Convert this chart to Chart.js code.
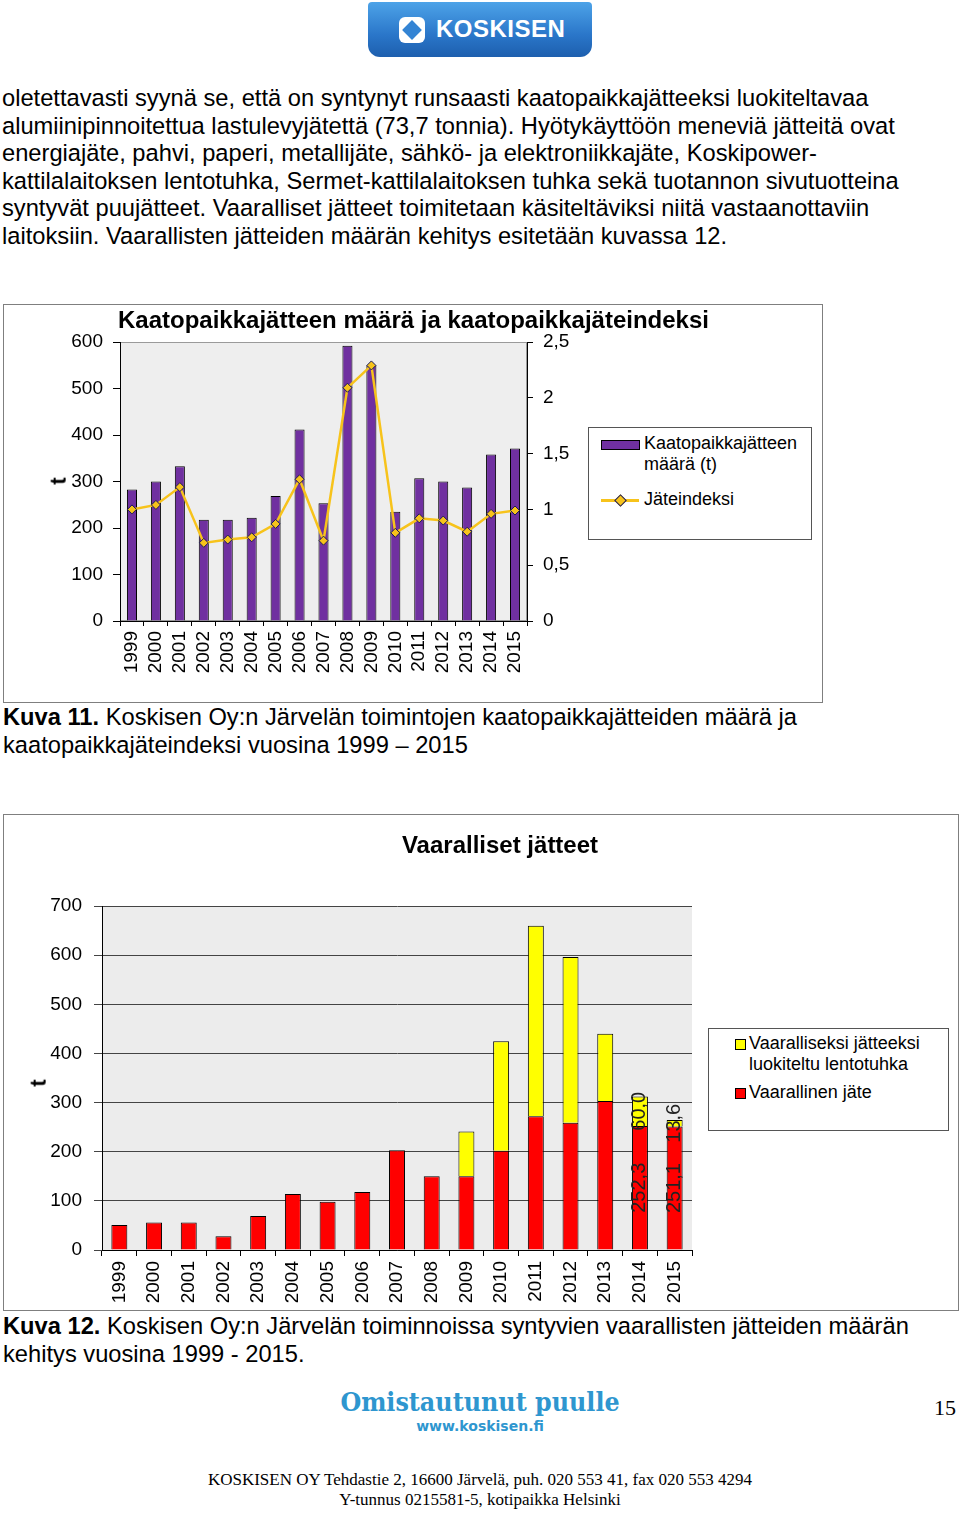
<!DOCTYPE html>
<html>
<head>
<meta charset="utf-8">
<script src="https://cdn.jsdelivr.net/npm/chart.js@4.4.1/dist/chart.umd.min.js"></script>
<style>
body{margin:0;width:960px;height:1513px;position:relative;background:#fff;color:#000;overflow:hidden;font-family:"Liberation Sans",Arial,sans-serif}
.abs{position:absolute;white-space:nowrap}
.p{left:2px;font-size:23.7px;line-height:27px}
.box{position:absolute;border:1px solid #7f7f7f;background:#fff}
.ctitle{font-family:"Liberation Sans Narrow","Liberation Sans",Arial,sans-serif;font-weight:bold}
.leg{font-family:"Liberation Sans Narrow","Liberation Sans",Arial,sans-serif;font-size:18px;line-height:21px}
.foot{font-family:"Liberation Serif","Times New Roman",serif;font-size:17px;width:960px;left:0;text-align:center}
</style>
</head>
<body>

<!-- logo -->
<div class="abs" style="left:368px;top:2px;width:224px;height:55px;border-radius:4px 4px 12px 12px;background:linear-gradient(#4da3e8,#2a76c9 60%,#1d5fae)"></div>
<div class="abs" style="left:399px;top:17px;width:26px;height:26px;border-radius:6px;background:#fff"></div>
<div class="abs" style="left:405px;top:23px;width:14px;height:14px;transform:rotate(45deg);background:#3484d4"></div>
<div class="abs" style="left:436px;top:15px;color:#fff;font-weight:bold;font-size:24px;letter-spacing:0.5px">KOSKISEN</div>

<!-- body text -->
<div class="abs p" style="top:84.5px">oletettavasti syynä se, että on syntynyt runsaasti kaatopaikkajätteeksi luokiteltavaa</div>
<div class="abs p" style="top:112.5px">alumiinipinnoitettua lastulevyjätettä (73,7 tonnia). Hyötykäyttöön meneviä jätteitä ovat</div>
<div class="abs p" style="top:139.5px">energiajäte, pahvi, paperi, metallijäte, sähkö- ja elektroniikkajäte, Koskipower-</div>
<div class="abs p" style="top:167.5px">kattilalaitoksen lentotuhka, Sermet-kattilalaitoksen tuhka sekä tuotannon sivutuotteina</div>
<div class="abs p" style="top:194.5px">syntyvät puujätteet. Vaaralliset jätteet toimitetaan käsiteltäviksi niitä vastaanottaviin</div>
<div class="abs p" style="top:222.5px">laitoksiin. Vaarallisten jätteiden määrän kehitys esitetään kuvassa 12.</div>

<!-- chart 1 -->
<div class="box" style="left:3px;top:304px;width:818px;height:397px"></div>
<canvas id="c1" class="abs" style="left:0;top:304px;width:830px;height:398px" width="830" height="398"></canvas>
<div class="abs ctitle" style="left:118px;top:306px;font-size:24px">Kaatopaikkajätteen määrä ja kaatopaikkajäteindeksi</div>
<div class="abs ctitle" style="left:55px;top:468px;font-size:22px;transform:rotate(-90deg)">t</div>
<div class="box" style="left:588px;top:427px;width:222px;height:111px;border-color:#555"></div>
<div class="abs" style="left:601px;top:440px;width:37px;height:8px;background:#7030a0;border:1px solid #000"></div>
<div class="abs leg" style="left:644px;top:433px">Kaatopaikkajätteen<br>määrä (t)</div>
<div class="abs" style="left:601px;top:499px;width:38px;height:3px;background:#f7c31b"></div>
<div class="abs" style="left:616px;top:496px;width:7px;height:7px;transform:rotate(45deg);background:#f7c31b;border:1px solid #1a1a5a"></div>
<div class="abs leg" style="left:644px;top:489px">Jäteindeksi</div>

<div class="abs p" style="left:3px;top:703.5px"><b>Kuva 11.</b> Koskisen Oy:n Järvelän toimintojen kaatopaikkajätteiden määrä ja</div>
<div class="abs p" style="left:3px;top:731.5px">kaatopaikkajäteindeksi vuosina 1999 – 2015</div>

<!-- chart 2 -->
<div class="box" style="left:3px;top:814px;width:954px;height:495px"></div>
<canvas id="c2" class="abs" style="left:0;top:814px;width:960px;height:496px" width="960" height="496"></canvas>
<div class="abs ctitle" style="left:300px;width:400px;text-align:center;top:831px;font-size:24px">Vaaralliset jätteet</div>
<div class="abs ctitle" style="left:35px;top:1070px;font-size:22px;transform:rotate(-90deg)">t</div>
<div class="box" style="left:708px;top:1028px;width:239px;height:101px;border-color:#555"></div>
<div class="abs" style="left:735px;top:1039px;width:9px;height:9px;background:#ffff00;border:1px solid #000"></div>
<div class="abs leg" style="left:749px;top:1033px">Vaaralliseksi jätteeksi<br>luokiteltu lentotuhka</div>
<div class="abs" style="left:735px;top:1088px;width:9px;height:9px;background:#ff0000;border:1px solid #000"></div>
<div class="abs leg" style="left:749px;top:1082px">Vaarallinen jäte</div>

<div class="abs p" style="left:3px;top:1312.5px"><b>Kuva 12.</b> Koskisen Oy:n Järvelän toiminnoissa syntyvien vaarallisten jätteiden määrän</div>
<div class="abs p" style="left:3px;top:1340.5px">kehitys vuosina 1999 - 2015.</div>

<!-- footer -->
<div class="abs" style="left:280px;width:400px;text-align:center;top:1386px;color:#2e96cf;font-family:'DejaVu Serif Condensed','DejaVu Serif',serif;font-weight:bold;font-size:26.5px">Omistautunut puulle</div>
<div class="abs" style="left:300px;width:360px;text-align:center;top:1418px;color:#2e96cf;font-family:'DejaVu Sans','Liberation Sans',sans-serif;font-weight:bold;font-size:14px">www.koskisen.fi</div>
<div class="abs" style="left:934px;top:1395px;font-family:'Liberation Serif',serif;font-size:22px">15</div>
<div class="abs foot" style="top:1470px">KOSKISEN OY Tehdastie 2, 16600 Järvelä, puh. 020 553 41, fax 020 553 4294</div>
<div class="abs foot" style="top:1490px">Y-tunnus 0215581-5, kotipaikka Helsinki</div>

<script>
// ---- data ----
const years = ['1999','2000','2001','2002','2003','2004','2005','2006','2007','2008','2009','2010','2011','2012','2013','2014','2015'];
const landfillTons = [283, 300, 333, 218, 218, 222, 269, 412, 253, 592, 550, 235, 307, 300, 287, 358, 371];
const wasteIndex = [1.0, 1.04, 1.2, 0.7, 0.73, 0.75, 0.87, 1.27, 0.72, 2.09, 2.29, 0.79, 0.92, 0.9, 0.8, 0.96, 0.99];
const hazardousWaste = [51, 56, 56, 28, 69, 114, 98, 118, 203, 150, 150, 202, 272, 259, 303, 252.3, 251.1];
const hazardousAsh = [0, 0, 0, 0, 0, 0, 0, 0, 0, 0, 91, 223, 388, 337, 137, 60.0, 13.6];
const labelledYears = ['2014', '2015'];
const leftTicks1 = [0, 100, 200, 300, 400, 500, 600];
const rightTicks1 = [0, 0.5, 1, 1.5, 2, 2.5];

const tickFont = { family: '"Liberation Sans Narrow","Liberation Sans",Arial,sans-serif', size: 19 };
const fmt = v => String(v).replace('.', ',');

// grey plot area
const plotBg = {
    id: 'plotBg',
    beforeDraw(chart, args, opts) {
        const { ctx, chartArea: a } = chart;
        ctx.save();
        ctx.fillStyle = opts.color;
        ctx.fillRect(a.left, a.top, a.width, a.height);
        if (opts.border) {
            ctx.strokeStyle = opts.border;
            ctx.lineWidth = 1;
            ctx.strokeRect(a.left + 0.5, a.top + 0.5, a.width - 1, a.height - 1);
        }
        ctx.restore();
    }
};

// rotated value labels on the last bars
const barValues = {
    id: 'barValues',
    afterDatasetsDraw(chart) {
        const { ctx } = chart;
        ctx.save();
        ctx.font = '20px "Liberation Sans", Arial, sans-serif';
        ctx.fillStyle = '#222';
        ctx.textAlign = 'center';
        ctx.textBaseline = 'middle';
        chart.data.datasets.forEach((ds, di) => {
            const meta = chart.getDatasetMeta(di);
            meta.data.forEach((bar, i) => {
                if (!labelledYears.includes(chart.data.labels[i])) return;
                const cy = (bar.y + bar.base) / 2;
                ctx.save();
                ctx.translate(bar.x, cy);
                ctx.rotate(-Math.PI / 2);
                ctx.fillText(ds.data[i].toFixed(1).replace('.', ','), 0, 0);
                ctx.restore();
            });
        });
        ctx.restore();
    }
};

// ---- chart 1 ----
new Chart(document.getElementById('c1'), {
    type: 'bar',
    plugins: [plotBg],
    data: {
        labels: years,
        datasets: [
            {
                type: 'line', label: 'Jäteindeksi', data: wasteIndex, yAxisID: 'y1',
                borderColor: '#f7c31b', borderWidth: 2.5, tension: 0,
                pointStyle: 'rectRot', pointRadius: 4.5,
                pointBackgroundColor: '#f7c31b', pointBorderColor: '#1a1a5a', pointBorderWidth: 1,
                order: 0
            },
            {
                type: 'bar', label: 'Kaatopaikkajätteen määrä (t)', data: landfillTons, yAxisID: 'y',
                backgroundColor: '#7030a0', borderColor: '#000', borderWidth: 1,
                barPercentage: 0.42, categoryPercentage: 1, order: 1
            }
        ]
    },
    options: {
        responsive: false, animation: false,
        layout: { padding: { left: 0, top: 38, right: 223, bottom: 0 } },
        plugins: { legend: { display: false }, tooltip: { enabled: false }, plotBg: { color: '#eeeeee', border: '#9a9a9a' } },
        scales: {
            x: {
                grid: { offset: true, drawOnChartArea: false, tickLength: 5, color: '#000' },
                border: { color: '#000' },
                ticks: { autoSkip: false, minRotation: 90, maxRotation: 90, padding: 5, font: tickFont, color: '#000' },
                afterFit(s) { s.height = 81; }
            },
            y: {
                position: 'left', min: 0, max: 600,
                afterBuildTicks(s) { s.ticks = leftTicks1.map(v => ({ value: v })); },
                ticks: { padding: 10, font: tickFont, color: '#000' },
                grid: { drawOnChartArea: false, tickLength: 7, color: '#000' },
                border: { color: '#000' },
                afterFit(s) { s.width = 120; }
            },
            y1: {
                position: 'right', min: 0, max: 2.5,
                afterBuildTicks(s) { s.ticks = rightTicks1.map(v => ({ value: v })); },
                ticks: { padding: 10, font: tickFont, color: '#000', callback: v => fmt(v) },
                grid: { drawOnChartArea: false, tickLength: 6, color: '#000' },
                border: { color: '#000' },
                afterFit(s) { s.width = 80; }
            }
        }
    }
});

// ---- chart 2 ----
new Chart(document.getElementById('c2'), {
    type: 'bar',
    plugins: [plotBg, barValues],
    data: {
        labels: years,
        datasets: [
            { label: 'Vaarallinen jäte', data: hazardousWaste, backgroundColor: '#ff0000', borderColor: '#000', borderWidth: 1, barPercentage: 0.46, categoryPercentage: 1 },
            { label: 'Vaaralliseksi jätteeksi luokiteltu lentotuhka', data: hazardousAsh, backgroundColor: '#ffff00', borderColor: '#000', borderWidth: 1, barPercentage: 0.46, categoryPercentage: 1 }
        ]
    },
    options: {
        responsive: false, animation: false,
        layout: { padding: { left: 0, top: 92, right: 268, bottom: 0 } },
        plugins: { legend: { display: false }, tooltip: { enabled: false }, plotBg: { color: '#ececec' } },
        scales: {
            x: {
                stacked: true,
                grid: { offset: true, drawOnChartArea: false, tickLength: 6, color: '#000' },
                border: { color: '#000' },
                ticks: { autoSkip: false, minRotation: 90, maxRotation: 90, padding: 5, font: tickFont, color: '#000' },
                afterFit(s) { s.height = 60; }
            },
            y: {
                stacked: true, min: 0, max: 700,
                ticks: { stepSize: 100, padding: 12, font: tickFont, color: '#000' },
                grid: { color: '#444', tickLength: 8 },
                border: { color: '#000' },
                afterFit(s) { s.width = 102; }
            }
        }
    }
});
</script>
</body>
</html>
